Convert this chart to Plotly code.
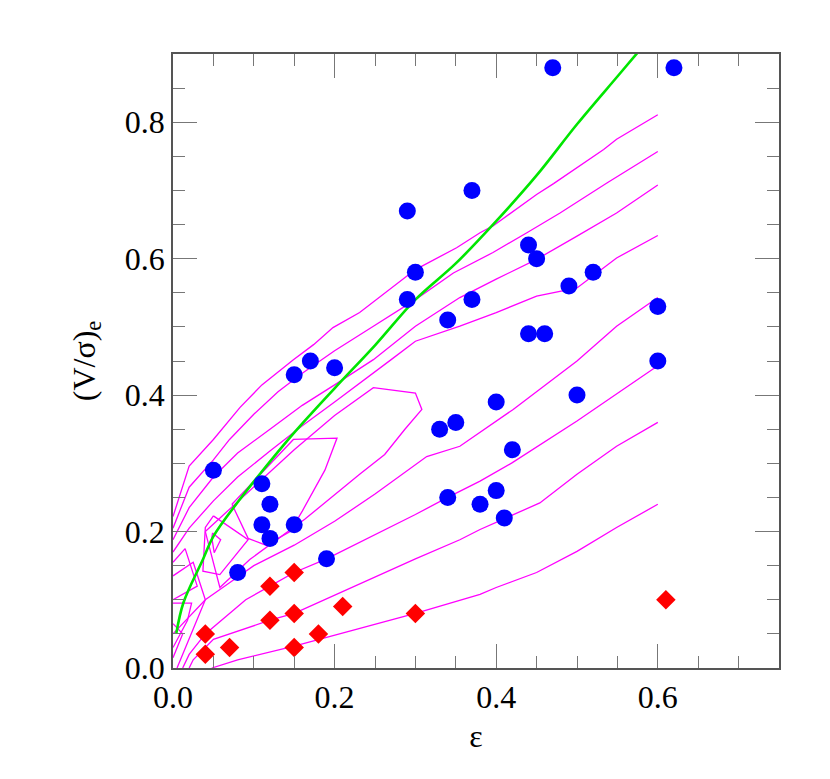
import plotly.graph_objects as go

# ---- data ----
blue_x = [0.05, 0.08, 0.11, 0.11, 0.12, 0.12, 0.15, 0.15, 0.17, 0.19, 0.20, 0.29, 0.29, 0.30,
          0.33, 0.34, 0.34, 0.35, 0.37, 0.37, 0.38, 0.40, 0.40, 0.41, 0.42, 0.44, 0.44, 0.45,
          0.46, 0.47, 0.49, 0.50, 0.52, 0.60, 0.60, 0.62]
blue_y = [0.29, 0.14, 0.27, 0.21, 0.24, 0.19, 0.43, 0.21, 0.45, 0.16, 0.44, 0.67, 0.54, 0.58,
          0.35, 0.51, 0.25, 0.36, 0.70, 0.54, 0.24, 0.39, 0.26, 0.22, 0.32, 0.62, 0.49, 0.60,
          0.49, 0.88, 0.56, 0.40, 0.58, 0.53, 0.45, 0.88]

red_x = [0.04, 0.04, 0.07, 0.12, 0.12, 0.15, 0.15, 0.15, 0.18, 0.21, 0.30, 0.61]
red_y = [0.02, 0.05, 0.03, 0.07, 0.12, 0.03, 0.08, 0.14, 0.05, 0.09, 0.08, 0.10]

green_x = [0.004, 0.013, 0.037, 0.05, 0.08, 0.11, 0.15, 0.20, 0.25, 0.30, 0.35, 0.40, 0.45, 0.50, 0.55, 0.575]
green_y = [0.050, 0.096, 0.159, 0.193, 0.243, 0.288, 0.345, 0.410, 0.473, 0.540, 0.593, 0.655, 0.722, 0.797, 0.867, 0.902]

# contour lines (magenta), each a polyline
contours = [
    ([0.0, 0.02, 0.05, 0.083, 0.11, 0.149, 0.174, 0.198, 0.231, 0.252, 0.30, 0.351, 0.38, 0.396, 0.45, 0.471, 0.50, 0.533, 0.549, 0.60],
     [0.222, 0.296, 0.335, 0.382, 0.415, 0.452, 0.474, 0.499, 0.521, 0.540, 0.584, 0.616, 0.638, 0.648, 0.694, 0.710, 0.734, 0.760, 0.775, 0.811]),
    ([0.0, 0.02, 0.05, 0.07, 0.10, 0.13, 0.16, 0.185, 0.20, 0.248, 0.30, 0.347, 0.396, 0.438, 0.479, 0.537, 0.60],
     [0.205, 0.265, 0.305, 0.335, 0.372, 0.405, 0.432, 0.452, 0.465, 0.501, 0.540, 0.579, 0.609, 0.638, 0.667, 0.711, 0.757]),
    ([0.0, 0.02, 0.05, 0.08, 0.12, 0.16, 0.20, 0.248, 0.30, 0.355, 0.40, 0.45, 0.50, 0.549, 0.60],
     [0.188, 0.235, 0.280, 0.315, 0.350, 0.385, 0.415, 0.452, 0.501, 0.543, 0.570, 0.599, 0.633, 0.667, 0.708]),
    ([0.0, 0.02, 0.05, 0.08, 0.12, 0.16, 0.20, 0.24, 0.27, 0.30, 0.355, 0.40, 0.45, 0.50, 0.549, 0.60],
     [0.170, 0.205, 0.245, 0.280, 0.318, 0.355, 0.390, 0.425, 0.452, 0.479, 0.501, 0.521, 0.545, 0.557, 0.601, 0.634]),
    ([0.0, 0.02, 0.04, 0.07, 0.10, 0.15, 0.20, 0.25, 0.314, 0.355, 0.38, 0.421, 0.50, 0.549, 0.60],
     [0.05, 0.075, 0.10, 0.125, 0.15, 0.18, 0.215, 0.255, 0.310, 0.325, 0.345, 0.379, 0.450, 0.501, 0.543]),
    ([0.012, 0.02, 0.04, 0.06, 0.09, 0.12, 0.15, 0.19, 0.30, 0.34, 0.38, 0.42, 0.50, 0.60],
     [0.0, 0.02, 0.05, 0.07, 0.10, 0.12, 0.14, 0.16, 0.225, 0.25, 0.274, 0.301, 0.362, 0.443]),
    ([0.02, 0.025, 0.05, 0.12, 0.15, 0.21, 0.30, 0.355, 0.38, 0.454, 0.50, 0.549, 0.60],
     [0.0, 0.012, 0.042, 0.07, 0.08, 0.112, 0.16, 0.188, 0.203, 0.242, 0.284, 0.325, 0.360]),
    ([0.048, 0.08, 0.15, 0.20, 0.30, 0.38, 0.40, 0.45, 0.50, 0.549, 0.60],
     [0.0, 0.012, 0.032, 0.048, 0.080, 0.108, 0.118, 0.140, 0.171, 0.206, 0.240]),
    # tongue-shaped contour
    ([0.04, 0.10, 0.15, 0.20, 0.248, 0.30, 0.308, 0.287, 0.262, 0.231, 0.20, 0.163, 0.095, 0.058, 0.04],
     [0.20, 0.265, 0.32, 0.37, 0.411, 0.403, 0.379, 0.350, 0.313, 0.284, 0.254, 0.218, 0.159, 0.118, 0.20]),
    ([0.073, 0.149, 0.203, 0.188, 0.16, 0.145, 0.115, 0.093, 0.073],
     [0.240, 0.335, 0.337, 0.290, 0.230, 0.200, 0.180, 0.190, 0.240]),
    ([0.05, 0.093, 0.058, 0.037, 0.04, 0.05],
     [0.223, 0.188, 0.137, 0.142, 0.206, 0.223]),
    ([0.049, 0.059, 0.051, 0.048, 0.049],
     [0.198, 0.188, 0.169, 0.191, 0.198]),
    # dense lines near the origin
    ([0.0, 0.015, 0.03, 0.0], [0.155, 0.175, 0.12, 0.10]),
    ([0.0, 0.025, 0.04, 0.005], [0.135, 0.155, 0.10, 0.0]),
    ([0.0, 0.023, 0.018, 0.0], [0.095, 0.095, 0.07, 0.03]),
    ([0.0, 0.012, 0.0], [0.065, 0.05, 0.015]),
]

x_ticks = [0.0, 0.2, 0.4, 0.6]
x_labels = ["0.0", "0.2", "0.4", "0.6"]
y_ticks = [0.0, 0.2, 0.4, 0.6, 0.8]
y_labels = ["0.0", "0.2", "0.4", "0.6", "0.8"]

fig = go.Figure()
for cx, cy in contours:
    fig.add_trace(go.Scatter(x=cx, y=cy, mode="lines",
                             line=dict(color="#ff00ff", width=1.3), hoverinfo="skip"))
fig.add_trace(go.Scatter(x=green_x, y=green_y, mode="lines",
                         line=dict(color="#00e600", width=2.6, shape="spline")))
fig.add_trace(go.Scatter(x=blue_x, y=blue_y, mode="markers",
                         marker=dict(symbol="circle", size=17, color="#0000ff")))
fig.add_trace(go.Scatter(x=red_x, y=red_y, mode="markers",
                         marker=dict(symbol="diamond", size=15, color="#ff0000")))

font = "Liberation Serif, Times New Roman, serif"
axis_common = dict(showgrid=False, zeroline=False, showline=True, linecolor="#555555",
                   linewidth=1.5, mirror="ticks", ticks="inside", tickcolor="#777777",
                   ticklen=24, tickwidth=1.2,
                   tickfont=dict(family=font, size=32, color="black"))
fig.update_layout(
    width=830, height=779,
    margin=dict(l=165, r=59, t=46, b=119),
    plot_bgcolor="white", paper_bgcolor="white",
    showlegend=False,
    xaxis=dict(range=[0, 0.75], tickvals=x_ticks, ticktext=x_labels,
               minor=dict(dtick=0.05, ticklen=12, tickcolor="#777777", ticks="inside"),
               title=dict(text="ε", font=dict(family=font, size=32, color="black"), standoff=10),
               **axis_common),
    yaxis=dict(range=[0, 0.9], tickvals=y_ticks, ticktext=y_labels,
               minor=dict(dtick=0.05, ticklen=12, tickcolor="#777777", ticks="inside"),
               title=dict(text="(V/σ)<sub>e</sub>", font=dict(family=font, size=32, color="black"), standoff=20),
               **axis_common),
)
fig.write_html("out.html")
